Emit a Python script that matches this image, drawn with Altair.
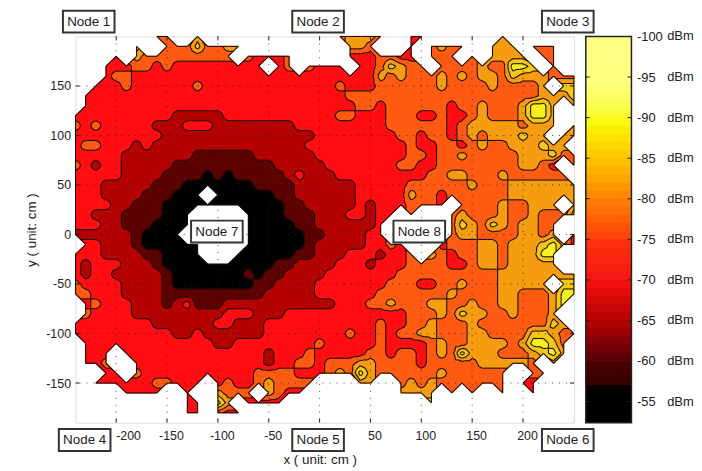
import altair as alt
import pandas as pd

alt.data_transformers.disable_max_rows()

# Grid positions of the survey (cm)
x_values = list(range(-240, 260, 10))
y_values = list(range(200, -200, -10))

# Band centre (dBm) and colour for each band code; "." = no measurement
band_dbm = [-57.5, -62.5, -67.5, -72.5, -77.5, -82.5, -87.5, -92.5]
band_colors = ["#000000", "#5c0000", "#b30000", "#ff0d12", "#ff5a12", "#f59c10", "#f5c814", "#f5f020"]
contour_levels = [-60, -65, -70, -75, -80, -85, -90]

# Band code at each grid point, one string per y row (groups of ten columns)
rows = [
    "........44 ..5....... ......4555 4..33..... ..5.......",
    "......6..4 4464455... .......554 ...3.4544. .555.444..",
    "....3.5444 444444.433 34.....333 4433.444.4 .5555.44..",
    "...3334434 333333333. 34.4333.33 46544.4444 544776.4..",
    "...3443333 3333333333 3333333333 5454445454 5546555444",
    "..33343333 3343333333 3333334333 4444445444 4544445.66",
    ".333333333 3333333333 3333333444 4444444444 4444445556",
    ".333333333 3333333333 3333333344 3444444344 54445775.5",
    "3333333333 2222233333 3333334433 3444334334 54445775..",
    "4343333322 2333222222 2233333333 3444444345 55554555.5",
    "3333333332 2222222222 2222333333 3344344345 4555655.55",
    "3443332322 2222222222 2223333333 3334334434 544555655.",
    "3333322222 2211111122 2222333333 3334434454 4444555644",
    "4323322222 1111111111 2222233333 3344334444 44445543.4",
    "3333322221 1110101111 1232223333 3333344554 445444444.",
    "3332222211 1000000011 1122222233 3334444445 4445555555",
    "3332222111 000.000000 1122222233 3335443444 4445555555",
    "3333221110 0000000000 0112222232 3334443.44 44544555.5",
    "3322211110 00.....000 0111222332 33.4...454 4454454446",
    "3332211100 00.....000 0011222222 3......465 46545544..",
    "2222221000 0......000 0001122223 3......455 44445545.3",
    ".332221000 000....000 0001222223 343...3444 5545556753",
    "3332222110 000...0000 0011222333 2334.54344 55455577..",
    "3233322210 0000000000 1122223332 3334444334 55455555..",
    "3233222221 0000000101 1222233333 3344444444 4455555555",
    "4333322221 0000000011 2222333333 3444334454 4455555.66",
    "4433322221 1111111112 2222333333 4444444544 4455444577",
    ".343332221 2311122222 2222223334 4544455445 445544457.",
    ".433332222 2222233322 2333333333 3334445465 54454445..",
    "3333333322 2222332223 3333333333 4334454445 444444465.",
    "3333333333 2232222223 3333333433 4344554445 5444466544",
    ".333333333 3333223333 3333433333 4333345445 555457764.",
    ".333.33333 3333333332 3334333334 4344345475 554445675.",
    ".334..3333 3333333332 3344344455 4444344444 555554.5..",
    "...33.4333 3333333344 4433345475 4444445444 444..44...",
    "..33333344 333.343345 4444....55 ..45454444 444.33....",
    ".....3333. .3..5444.5 433....... ..5555.4.4 ..4..3....",
    ".......... .33.75.333 3......... .....6.... ..........",
    ".......... .33.433... .......... .......... ..........",
    ".......... .......... .......... .......... ..........",
]

# Annotations
node_labels = ["Node 1", "Node 2", "Node 3", "Node 4", "Node 5", "Node 6", "Node 7", "Node 8"]
node_x = [-227, -1.5, 244, -231, -1.5, 244, -101, 98]
node_y = [215, 215, 215, -207.5, -207.5, -207.5, 3, 3]
x_ticks = [-200, -150, -100, -50, 0, 50, 100, 150, 200]
y_ticks = [-150, -100, -50, 0, 50, 100, 150]
bar_ticks = [-100, -95, -90, -85, -80, -75, -70, -65, -60, -55]
bar_unit = ["dBm"] * len(bar_ticks)
bar_stops = [-100, -95, -90, -85, -80, -75, -70, -65, -60, -57, -52]
bar_colors = ["#ffffff", "#ffff80", "#f8fa10", "#ffc000", "#ff7a08", "#ff3010",
              "#f00e10", "#b00000", "#4a0000", "#000000", "#000000"]

W, H = 502, 389
X_DOM = [-240, 250]
Y_DOM = [-190, 200]

grid = []
for r in rows:
    s = r.replace(" ", "")
    assert len(s) == 50, r
    grid.append([None if c == "." else band_dbm[int(c)] for c in s])


def band_of(v):
    for k, t in enumerate(contour_levels):
        if v > t:
            return k
    return len(contour_levels)


def clip_above(poly, t, keep_above):
    out = []
    n = len(poly)
    for a in range(n):
        p, q = poly[a], poly[(a + 1) % n]
        pin = (p[2] >= t) if keep_above else (p[2] <= t)
        qin = (q[2] >= t) if keep_above else (q[2] <= t)
        if pin:
            out.append(p)
        if pin != qin:
            f = (t - p[2]) / (q[2] - p[2])
            out.append((p[0] + f * (q[0] - p[0]), p[1] + f * (q[1] - p[1]), t))
    return out


polys = []
segs = []
edge_count = {}
pid = 0


def add_poly(pts, band):
    global pid
    for k, p in enumerate(pts):
        polys.append({"p": pid, "k": k, "x": round(p[0], 2), "y": round(p[1], 2), "b": band})
    pid += 1


def note_edge(a, b):
    key = tuple(sorted([(round(a[0], 3), round(a[1], 3)), (round(b[0], 3), round(b[1], 3))]))
    edge_count[key] = edge_count.get(key, 0) + 1


def add_triangle(tri):
    for a in range(3):
        note_edge(tri[a], tri[(a + 1) % 3])
    vs = [p[2] for p in tri]
    lo_b, hi_b = band_of(max(vs)), band_of(min(vs))
    for band in range(lo_b, hi_b + 1):
        poly = list(tri)
        if band < len(contour_levels):
            poly = clip_above(poly, contour_levels[band], True)
        if band > 0 and poly:
            poly = clip_above(poly, contour_levels[band - 1], False)
        if len(poly) >= 3:
            add_poly(poly, band)
    for level in contour_levels:
        t = level + 1e-6
        cross = []
        for a in range(3):
            p, q = tri[a], tri[(a + 1) % 3]
            if (p[2] - t) * (q[2] - t) < 0:
                f = (t - p[2]) / (q[2] - p[2])
                cross.append((p[0] + f * (q[0] - p[0]), p[1] + f * (q[1] - p[1])))
        if len(cross) == 2:
            segs.append({"x": round(cross[0][0], 2), "y": round(cross[0][1], 2),
                         "x2": round(cross[1][0], 2), "y2": round(cross[1][1], 2)})


for j in range(len(y_values) - 1):
    for i in range(len(x_values) - 1):
        corners = [(x_values[i + a], y_values[j + b], grid[j + b][i + a])
                   for a, b in [(0, 0), (1, 0), (1, 1), (0, 1)]]
        valid = [c for c in corners if c[2] is not None]
        if len(valid) < 3:
            continue
        if len(valid) == 3:
            add_triangle(valid)
            continue
        if len({c[2] for c in corners}) == 1:
            add_poly(corners, band_of(corners[0][2]))
            for a in range(4):
                note_edge(corners[a], corners[(a + 1) % 4])
            continue
        cx = x_values[i] + 5
        cy = y_values[j] - 5
        cv = sum(c[2] for c in corners) / 4
        for a in range(4):
            add_triangle([corners[a], corners[(a + 1) % 4], (cx, cy, cv)])

for (a, b), n in edge_count.items():
    if n == 1:
        segs.append({"x": a[0], "y": a[1], "x2": b[0], "y2": b[1]})

x_scale = alt.Scale(domain=X_DOM, nice=False, zero=False)
y_scale = alt.Scale(domain=Y_DOM, nice=False, zero=False)
FONT = "Liberation Sans"
INK = "#222222"

x_enc = alt.X("x:Q", scale=x_scale,
              axis=alt.Axis(values=x_ticks, grid=False, domain=False, tickSize=0, labelPadding=7,
                            labelFontSize=12.5, labelColor=INK, labelFont=FONT,
                            labelExpr="datum.value == 0 ? '' : '' + datum.value",
                            labelOffset={"condition": {"test": "datum.value == -200", "value": 12},
                                         "value": 4},
                            title="x ( unit: cm )", titleFont=FONT, titleFontSize=13.5,
                            titleFontWeight="normal", titleColor=INK, titlePadding=11, titleX=246))
y_enc = alt.Y("y:Q", scale=y_scale,
              axis=alt.Axis(values=y_ticks, grid=False, domain=False, tickSize=0, labelPadding=5,
                            labelFontSize=12.5, labelColor=INK, labelFont=FONT,
                            labelExpr="'' + datum.value",
                            title="y ( unit: cm )", titleFont=FONT, titleFontSize=13.5,
                            titleFontWeight="normal", titleColor=INK, titlePadding=7))

band_scale = alt.Scale(domain=list(range(len(band_colors))), range=band_colors)
filled = alt.Chart(pd.DataFrame(polys)).mark_line(strokeWidth=1, interpolate="linear-closed").encode(
    x=x_enc, y=y_enc,
    order="k:Q", detail="p:N",
    fill=alt.Fill("b:O", scale=band_scale, legend=None),
    stroke=alt.Stroke("b:O", scale=band_scale, legend=None),
)
contours = alt.Chart(pd.DataFrame(segs)).mark_rule(color="#1a0a00", strokeWidth=1.1).encode(
    x=alt.X("x:Q", scale=x_scale), y=alt.Y("y:Q", scale=y_scale), x2="x2:Q", y2="y2:Q")
xt = pd.DataFrame({"x": x_ticks})
yt = pd.DataFrame({"y": y_ticks})
vgrid = alt.Chart(xt).mark_rule(color=INK, strokeWidth=0.8, strokeDash=[1, 6]).encode(
    x=alt.X("x:Q", scale=x_scale))
hgrid = alt.Chart(yt).mark_rule(color=INK, strokeWidth=0.8, strokeDash=[1, 6]).encode(
    y=alt.Y("y:Q", scale=y_scale))
xtick_b = alt.Chart(xt).mark_rule(color=INK).encode(
    x=alt.X("x:Q", scale=x_scale), y=alt.value(H), y2=alt.value(H - 4))
xtick_t = alt.Chart(xt).mark_rule(color=INK).encode(
    x=alt.X("x:Q", scale=x_scale), y=alt.value(0), y2=alt.value(4))
ytick_l = alt.Chart(yt).mark_rule(color=INK).encode(
    y=alt.Y("y:Q", scale=y_scale), x=alt.value(0), x2=alt.value(4))
ytick_r = alt.Chart(yt).mark_rule(color=INK).encode(
    y=alt.Y("y:Q", scale=y_scale), x=alt.value(W), x2=alt.value(W - 4))

nodes = pd.DataFrame({"x": node_x, "y": node_y, "t": node_labels})
boxes = alt.Chart(nodes).mark_rect(width=52, height=22, fill="white", stroke="#333333", strokeWidth=2).encode(
    x=alt.X("x:Q", scale=x_scale), y=alt.Y("y:Q", scale=y_scale))
texts = alt.Chart(nodes).mark_text(font=FONT, fontSize=13.5, color=INK).encode(
    x=alt.X("x:Q", scale=x_scale), y=alt.Y("y:Q", scale=y_scale), text="t:N")

main = alt.layer(filled, contours, vgrid, hgrid, xtick_b, xtick_t, ytick_l, ytick_r, boxes, texts)

bar_low = list(range(-100, -52))
bar_df = pd.DataFrame({"v": bar_low, "v2": [min(v + 1.3, -52.4) for v in bar_low]})
bar_y = alt.Scale(domain=[-52.4, -100], nice=False, zero=False)
bar = alt.Chart(bar_df).mark_rect().encode(
    x=alt.value(514), x2=alt.value(560),
    y=alt.Y("v:Q", scale=bar_y,
            axis=alt.Axis(orient="right", offset=58, values=bar_ticks, grid=False, domain=False,
                          tickSize=0, labelPadding=5, labelFontSize=13,
                          labelColor=INK, labelFont=FONT, title=None,
                          labelExpr="'' + datum.value")),
    y2="v2:Q",
    color=alt.Color("v:Q", scale=alt.Scale(domain=bar_stops, range=bar_colors), legend=None),
)
bar_frame = alt.Chart(pd.DataFrame({"v": [-100]})).mark_rect(
    fill="transparent", stroke=INK, strokeWidth=1.5).encode(
    x=alt.value(514), x2=alt.value(560), y=alt.value(0), y2=alt.value(H))
bt = pd.DataFrame({"v": bar_ticks, "u": bar_unit})
btick_l = alt.Chart(bt).mark_rule(color=INK).encode(
    y=alt.Y("v:Q", scale=bar_y), x=alt.value(514), x2=alt.value(518))
btick_r = alt.Chart(bt).mark_rule(color=INK).encode(
    y=alt.Y("v:Q", scale=bar_y), x=alt.value(556), x2=alt.value(560))
bar_text = alt.Chart(bt).mark_text(font=FONT, fontSize=13, color=INK, align="left").encode(
    y=alt.Y("v:Q", scale=bar_y), x=alt.value(596), text="u:N")
side = alt.layer(bar, bar_frame, btick_l, btick_r, bar_text)

chart = alt.layer(main, side).resolve_scale(y="independent", color="independent").properties(
    width=W, height=H, padding={"left": 16, "top": 0, "right": 0, "bottom": 0}
).configure_view(stroke=INK, strokeWidth=2).configure(background="white")

chart.save("out.html", embed_options={"renderer": "svg", "actions": False})
